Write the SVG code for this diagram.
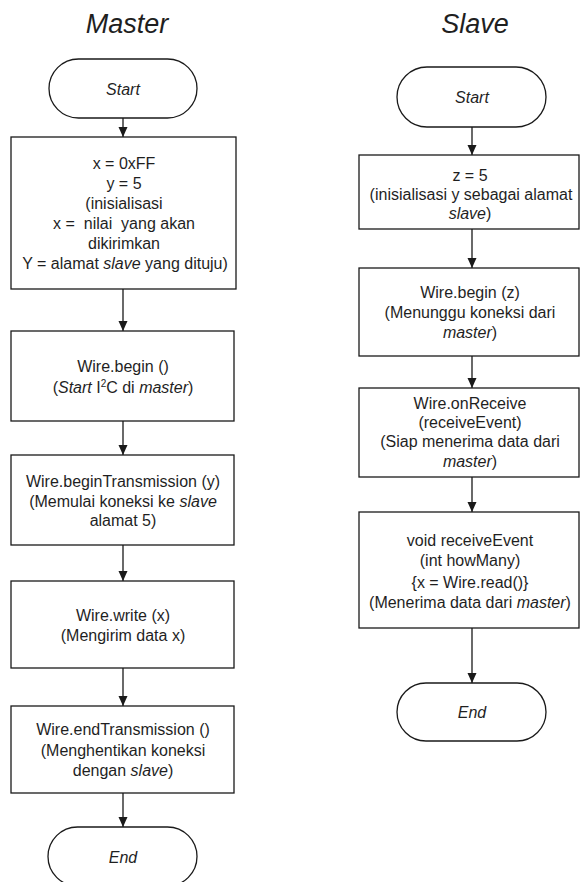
<svg xmlns="http://www.w3.org/2000/svg" width="581" height="882" viewBox="0 0 581 882">
<defs>
<marker id="ah" markerUnits="userSpaceOnUse" markerWidth="10" markerHeight="10" viewBox="0 0 10 10" refX="10" refY="5" orient="auto">
<path d="M0,0.5 L10,5 L0,9.5 Z" fill="#1a1a1a"/>
</marker>
<style>
.box{fill:#fff;stroke:#1a1a1a;stroke-width:1.3}
.t{font-family:"Liberation Sans",Arial,sans-serif;font-size:16px;fill:#1f1f1f;text-anchor:middle}
.i{font-style:italic}
.title{font-family:"Liberation Sans",Arial,sans-serif;font-size:27px;font-style:italic;fill:#1f1f1f;text-anchor:middle}
.c{stroke:#1a1a1a;stroke-width:1.3;fill:none;marker-end:url(#ah)}
</style>
</defs>
<rect width="581" height="882" fill="#fff"/>
<text class="title" x="127" y="33">Master</text>
<text class="title" x="475" y="33">Slave</text>

<g id="connectors">
<line class="c" x1="123" y1="118" x2="123" y2="137"/>
<line class="c" x1="123" y1="289" x2="123" y2="331"/>
<line class="c" x1="123" y1="421" x2="123" y2="455"/>
<line class="c" x1="123" y1="545" x2="123" y2="581"/>
<line class="c" x1="123" y1="668" x2="123" y2="706"/>
<line class="c" x1="123" y1="793" x2="123" y2="827"/>
<line class="c" x1="472" y1="127" x2="472" y2="155"/>
<line class="c" x1="472" y1="229" x2="472" y2="268"/>
<line class="c" x1="472" y1="356" x2="472" y2="388"/>
<line class="c" x1="472" y1="477" x2="472" y2="512"/>
<line class="c" x1="472" y1="628" x2="472" y2="683"/>
</g>

<g id="m-start">
<rect class="box" x="49" y="59" width="148" height="59" rx="29.5"/>
<text class="t i" x="123" y="95">Start</text>
</g>
<g id="m-init">
<rect class="box" x="11" y="137" width="225" height="152"/>
<text class="t" x="124" y="169">x = 0xFF</text>
<text class="t" x="124" y="189">y = 5</text>
<text class="t" x="124" y="209">(inisialisasi</text>
<text class="t" x="124" y="229" xml:space="preserve">x =  nilai  yang akan</text>
<text class="t" x="124" y="249">dikirimkan</text>
<text class="t" x="125" y="269">Y = alamat <tspan class="i">slave</tspan> yang dituju)</text>
</g>
<g id="m-begin">
<rect class="box" x="11" y="331" width="223" height="90"/>
<text class="t" x="123" y="372">Wire.begin ()</text>
<text class="t" x="123" y="393">(<tspan class="i">Start</tspan> I<tspan font-size="10" dy="-6">2</tspan><tspan dy="6">C di </tspan><tspan class="i">master</tspan>)</text>
</g>
<g id="m-begintx">
<rect class="box" x="11" y="455" width="223" height="90"/>
<text class="t" x="123" y="487">Wire.beginTransmission (y)</text>
<text class="t" x="123" y="507">(Memulai koneksi ke <tspan class="i">slave</tspan></text>
<text class="t" x="123" y="526">alamat 5)</text>
</g>
<g id="m-write">
<rect class="box" x="11" y="581" width="223" height="87"/>
<text class="t" x="123" y="621">Wire.write (x)</text>
<text class="t" x="123" y="641">(Mengirim data x)</text>
</g>
<g id="m-endtx">
<rect class="box" x="11" y="706" width="223" height="87"/>
<text class="t" x="123" y="735">Wire.endTransmission ()</text>
<text class="t" x="123" y="756">(Menghentikan koneksi</text>
<text class="t" x="123" y="776">dengan <tspan class="i">slave</tspan>)</text>
</g>
<g id="m-end">
<rect class="box" x="48" y="827" width="149" height="59" rx="29.5"/>
<text class="t i" x="123" y="863">End</text>
</g>

<g id="s-start">
<rect class="box" x="397" y="67" width="149" height="60" rx="30"/>
<text class="t i" x="472" y="103">Start</text>
</g>
<g id="s-init">
<rect class="box" x="359" y="155" width="220" height="74"/>
<text class="t" x="470" y="181">z = 5</text>
<text class="t" x="471" y="200">(inisialisasi y sebagai alamat</text>
<text class="t" x="470" y="219"><tspan class="i">slave</tspan>)</text>
</g>
<g id="s-begin">
<rect class="box" x="359" y="268" width="220" height="88"/>
<text class="t" x="470" y="298">Wire.begin (z)</text>
<text class="t" x="470" y="318">(Menunggu koneksi dari</text>
<text class="t" x="470" y="338"><tspan class="i">master</tspan>)</text>
</g>
<g id="s-onreceive">
<rect class="box" x="359" y="388" width="220" height="89"/>
<text class="t" x="470" y="409">Wire.onReceive</text>
<text class="t" x="470" y="428">(receiveEvent)</text>
<text class="t" x="470" y="447">(Siap menerima data dari</text>
<text class="t" x="470" y="467"><tspan class="i">master</tspan>)</text>
</g>
<g id="s-event">
<rect class="box" x="359" y="512" width="220" height="116"/>
<text class="t" x="470" y="546">void receiveEvent</text>
<text class="t" x="470" y="566">(int howMany)</text>
<text class="t" x="470" y="588">{x = Wire.read()}</text>
<text class="t" x="470" y="608">(Menerima data dari <tspan class="i">master</tspan>)</text>
</g>
<g id="s-end">
<rect class="box" x="397" y="683" width="149" height="58" rx="29"/>
<text class="t i" x="472" y="718">End</text>
</g>
</svg>
